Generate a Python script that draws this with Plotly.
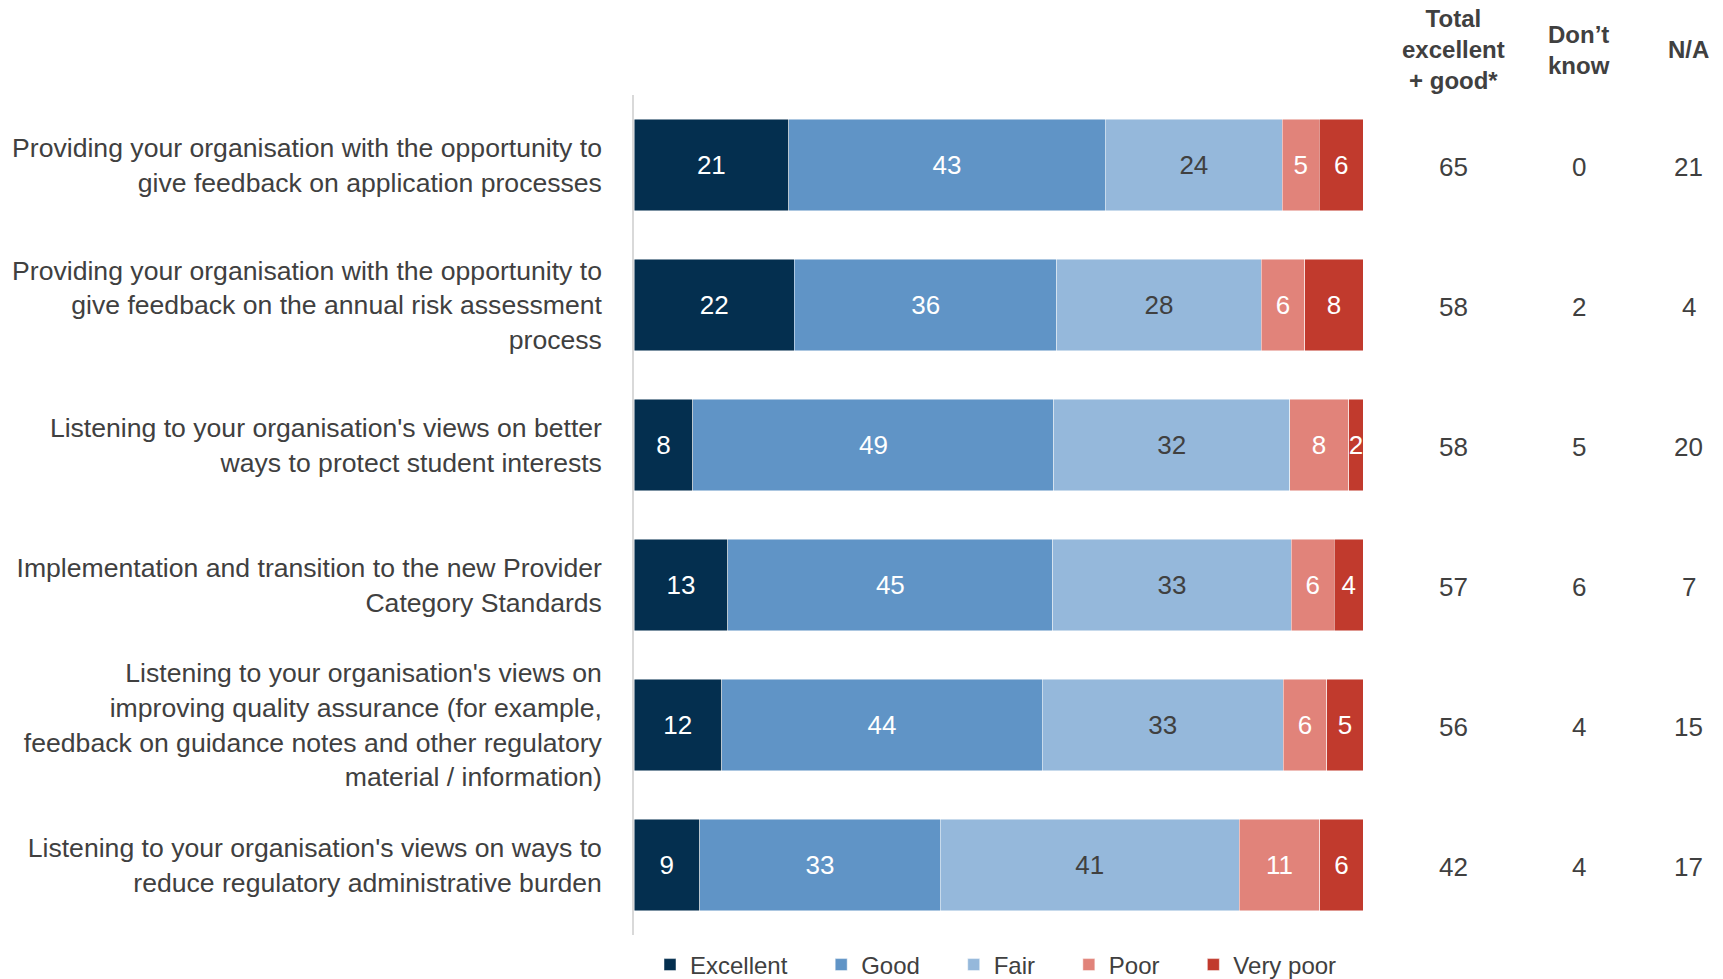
import plotly.graph_objects as go

# Survey statements (top to bottom)
statements = [
    "Providing your organisation with the opportunity to<br>give feedback on application processes",
    "Providing your organisation with the opportunity to<br>give feedback on the annual risk assessment<br>process",
    "Listening to your organisation's views on better<br>ways to protect student interests",
    "Implementation and transition to the new Provider<br>Category Standards",
    "Listening to your organisation's views on<br>improving quality assurance (for example,<br>feedback on guidance notes and other regulatory<br>material / information)",
    "Listening to your organisation's views on ways to<br>reduce regulatory administrative burden",
]

# Rating shares (%)
excellent = [21, 22, 8, 13, 12, 9]
good = [43, 36, 49, 45, 44, 33]
fair = [24, 28, 32, 33, 33, 41]
poor = [5, 6, 8, 6, 6, 11]
very_poor = [6, 8, 2, 4, 5, 6]

# Side columns
total_exc_good = [65, 58, 58, 57, 56, 42]
dont_know = [0, 2, 5, 6, 4, 4]
not_applicable = [21, 4, 20, 7, 15, 17]

series_names = ["Excellent", "Good", "Fair", "Poor", "Very poor"]
series_values = [excellent, good, fair, poor, very_poor]
series_colors = ["#042F4F", "#6094C6", "#95B8DB", "#E1837A", "#C13A2D"]
label_colors = ["white", "white", "#404040", "white", "white"]

column_headers = ["<b>Total<br>excellent<br>+ good*</b>", "<b>Don’t<br>know</b>", "<b>N/A</b>"]
column_values = [total_exc_good, dont_know, not_applicable]
column_x = [1.122, 1.295, 1.445]

FONT = "Liberation Sans, Arial, sans-serif"
GREY = "#404040"
LEGEND_PAD = "\u2002\u2002\u2009"  # extra spacing after each legend entry but the last

fig = go.Figure()
n_series = len(series_names)
for i, (name, vals, color, tcolor) in enumerate(zip(series_names, series_values, series_colors, label_colors)):
    fig.add_trace(go.Bar(
        name=name + (LEGEND_PAD if i < n_series - 1 else ""),
        y=statements,
        x=vals,
        orientation="h",
        marker=dict(color=color, line=dict(color="rgba(255,255,255,0.6)", width=0.8)),
        text=[str(v) for v in vals],
        textposition="inside",
        insidetextanchor="middle",
        textangle=0,
        constraintext="none",
        cliponaxis=False,
        textfont=dict(family=FONT, size=26, color=tcolor),
        hoverinfo="skip",
    ))

annotations = []
for header, vals, cx in zip(column_headers, column_values, column_x):
    annotations.append(dict(
        x=cx, y=1.054, xref="paper", yref="paper", text=header, showarrow=False,
        xanchor="center", yanchor="middle", align="center",
        font=dict(family=FONT, size=24, color=GREY),
    ))
    for stmt, v in zip(statements, vals):
        annotations.append(dict(
            x=cx, y=stmt, xref="paper", yref="y", text=str(v), showarrow=False,
            xanchor="center", yanchor="middle", yshift=-2,
            font=dict(family=FONT, size=26, color=GREY),
        ))

fig.update_layout(
    width=1723,
    height=979,
    barmode="stack",
    barnorm="percent",
    bargap=0.343,
    plot_bgcolor="white",
    paper_bgcolor="white",
    margin=dict(l=634, r=359, t=95, b=44, autoexpand=False),
    font=dict(family=FONT, color=GREY),
    annotations=annotations,
    showlegend=True,
    legend=dict(
        orientation="h",
        xref="container", yref="container",
        x=650 / 1723, xanchor="left",
        y=14 / 979, yanchor="middle",
        font=dict(family=FONT, size=24, color=GREY),
        itemwidth=30,
        traceorder="normal",
    ),
    xaxis=dict(range=[0, 100.1], showgrid=False, zeroline=False, showticklabels=False,
               showline=False, fixedrange=True),
    yaxis=dict(autorange="reversed", showgrid=False, zeroline=False,
               showline=True, linecolor="#D9D9D9", linewidth=1.5, ticks="",
               ticklabelstandoff=25,
               tickfont=dict(family=FONT, size=26.6, color=GREY)),
)

fig.write_html("out.html")
